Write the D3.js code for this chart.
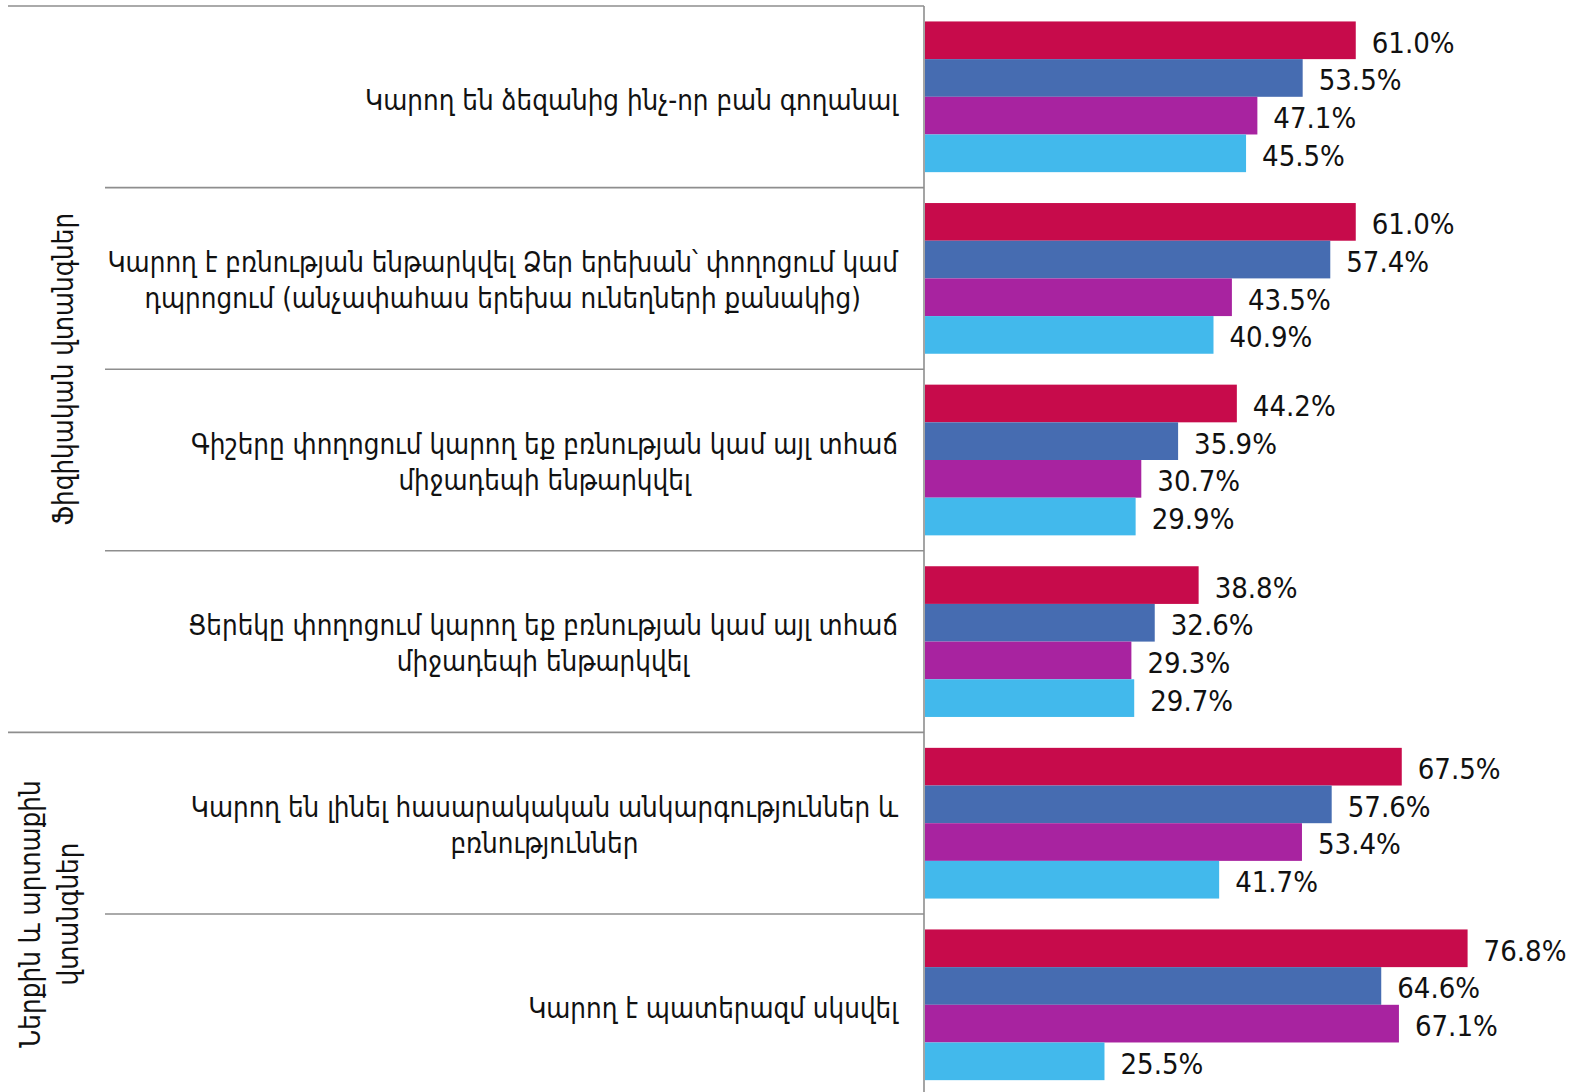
<!DOCTYPE html>
<html><head><meta charset="utf-8">
<script src="https://cdn.jsdelivr.net/npm/d3@7"></script>
<style>
html,body{margin:0;padding:0;background:#fff;}
svg{display:block;}
text{font-family:"DejaVu Sans Condensed","DejaVu Sans",sans-serif;fill:#111;}
</style></head>
<body>
<svg id="chart" width="1577" height="1092"></svg>
<script>
const categories = [
  ["Կարող են ձեզանից ինչ-որ բան գողանալ"],
  ["Կարող է բռնության ենթարկվել Ձեր երեխան՝ փողոցում կամ", "դպրոցում (անչափահաս երեխա ունեղների քանակից)"],
  ["Գիշերը փողոցում կարող եք բռնության կամ այլ տհաճ", "միջադեպի ենթարկվել"],
  ["Ցերեկը փողոցում կարող եք բռնության կամ այլ տհաճ", "միջադեպի ենթարկվել"],
  ["Կարող են լինել հասարակական անկարգություններ և", "բռնություններ"],
  ["Կարող է պատերազմ սկսվել"]
];
const groups = [
  {lines: ["Ֆիզիկական վտանգներ"], from: 0, to: 3},
  {lines: ["Ներքին և արտաքին", "վտանգներ"], from: 4, to: 5}
];
const seriesNames = ["s1", "s2", "s3", "s4"];
const series1 = [61.0, 61.0, 44.2, 38.8, 67.5, 76.8];
const series2 = [53.5, 57.4, 35.9, 32.6, 57.6, 64.6];
const series3 = [47.1, 43.5, 30.7, 29.3, 53.4, 67.1];
const series4 = [45.5, 40.9, 29.9, 29.7, 41.7, 25.5];
const seriesValues = [series1, series2, series3, series4];
const colors = ["#C70B4B", "#466CB1", "#A823A0", "#42B9EC"];

const svg = d3.select("#chart");
const axisX = 924, topY = 6, step = 181.6;
const idx = d3.range(categories.length);
const y = d3.scaleBand().domain(idx).range([topY, topY + step * categories.length]).padding(0);
const yInner = d3.scaleBand().domain(seriesNames).range([0, y.bandwidth()]).paddingInner(0).paddingOuter(0.41);
const x = d3.scaleLinear().domain([0, 100]).range([axisX, axisX + 707.8]);

const gridColor = "#8e8e8e";
const boundaries = d3.range(categories.length + 1);
boundaries.forEach(i => {
  const yy = topY + i * step;
  const isGroupEdge = groups.some(g => g.from === i) || i === categories.length;
  svg.append("line")
    .attr("x1", isGroupEdge ? 8 : 105).attr("x2", axisX)
    .attr("y1", yy).attr("y2", yy)
    .attr("stroke", gridColor).attr("stroke-width", 1.6);
});
svg.append("line").attr("x1", axisX).attr("x2", axisX).attr("y1", topY).attr("y2", 1092)
  .attr("stroke", gridColor).attr("stroke-width", 1.6);

idx.forEach(ci => {
  const g = svg.append("g").attr("transform", `translate(0,${y(ci)})`);
  seriesNames.forEach((s, si) => {
    const v = seriesValues[si][ci];
    g.append("rect")
      .attr("x", x(0) + 1).attr("y", yInner(s))
      .attr("width", x(v) - x(0) - 1).attr("height", yInner.bandwidth())
      .attr("fill", colors[si]);
    g.append("text")
      .attr("x", x(v) + 16).attr("y", yInner(s) + yInner.bandwidth() / 2 + 2)
      .attr("dy", "0.36em")
      .style("font-size", "29px")
      .text(v.toFixed(1) + "%");
  });
});

const labelRight = 898, lineH = 36, catFont = 27.5;
idx.forEach(ci => {
  const lines = categories[ci];
  const t = svg.append("text").style("font-size", catFont + "px").attr("text-anchor", "middle");
  const cy = y(ci) + y.bandwidth() / 2 + (lines.length > 1 ? 2 : 4);
  lines.forEach((l, li) => {
    t.append("tspan").attr("y", cy + (li - (lines.length - 1) / 2) * lineH).attr("dy", "0.35em").text(l);
  });
  let maxW = 0;
  t.selectAll("tspan").each(function(){ maxW = Math.max(maxW, this.getComputedTextLength()); });
  t.selectAll("tspan").attr("x", labelRight - maxW / 2);
});

const groupX = [63, 49];
groups.forEach((g, gi) => {
  const cy = (y(g.from) + y(g.to) + y.bandwidth()) / 2;
  const t = svg.append("text").style("font-size", catFont + "px").attr("text-anchor", "middle")
    .attr("transform", `translate(${groupX[gi]},${cy}) rotate(-90)`);
  g.lines.forEach((l, li) => {
    t.append("tspan").attr("x", 0).attr("y", (li - (g.lines.length - 1) / 2) * 38).attr("dy", "0.35em").text(l);
  });
});
</script>
</body></html>
